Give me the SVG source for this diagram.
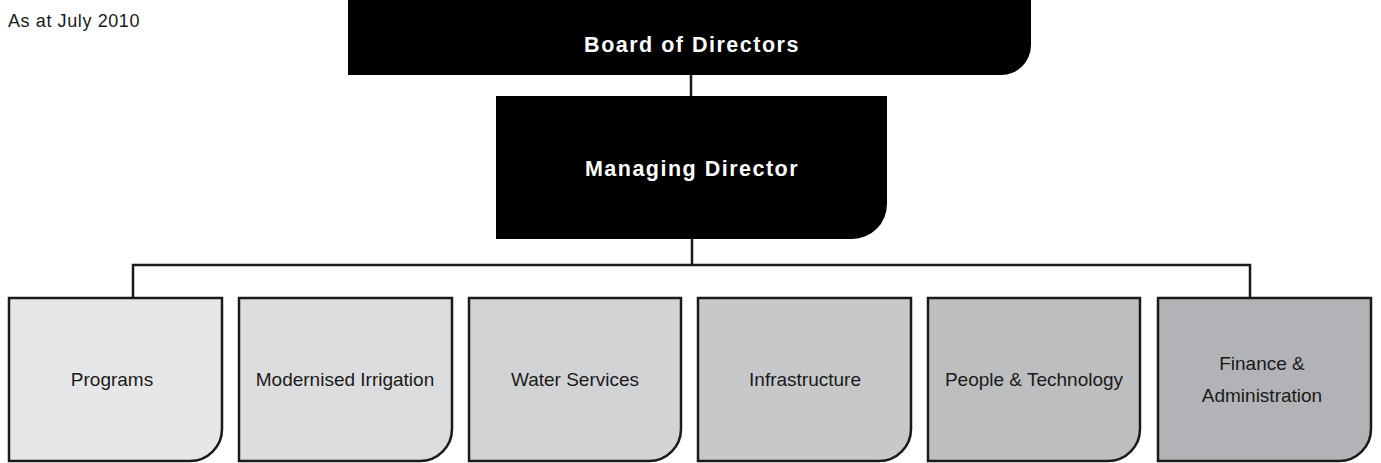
<svg xmlns="http://www.w3.org/2000/svg" width="1381" height="463" viewBox="0 0 1381 463">
<style>
.lbl{font-family:"Liberation Sans",Arial,sans-serif;font-size:19px;fill:#1a1a1a;text-anchor:middle}
.hd{font-family:"Liberation Sans",Arial,sans-serif;font-size:21.5px;font-weight:bold;letter-spacing:1.5px;fill:#ffffff;text-anchor:middle}
.box{stroke:#1a1a1a;stroke-width:2.5}
.conn{fill:none;stroke:#1a1a1a;stroke-width:2.5}
</style>
<rect width="1381" height="463" fill="#ffffff"/>
<text x="8" y="27" style="font-family:'Liberation Sans',Arial,sans-serif;font-size:18px;letter-spacing:0.6px;fill:#1a1a1a">As at July 2010</text>
<g id="connectors">
<path class="conn" d="M691 75 V97"/>
<path class="conn" d="M692 238 V265"/>
<path class="conn" d="M133 297 V265 H1250 V297"/>
</g>
<g id="board">
<path d="M348 0 H1031 V45 A30 30 0 0 1 1001 75 H348 Z" fill="#000000"/>
<text class="hd" x="692" y="52">Board of Directors</text>
</g>
<g id="md">
<path d="M496 96 H887 V204 A35 35 0 0 1 852 239 H496 Z" fill="#000000"/>
<text class="hd" x="692" y="176">Managing Director</text>
</g>
<g id="programs">
<path class="box" d="M9 298 H222 V429 A32 32 0 0 1 190 461 H9 Z" fill="#e6e7e8"/>
<text class="lbl" x="112" y="386">Programs</text>
</g>
<g id="irrigation">
<path class="box" d="M239 298 H452 V429 A32 32 0 0 1 420 461 H239 Z" fill="#dcdddf"/>
<text class="lbl" x="345" y="386">Modernised Irrigation</text>
</g>
<g id="water">
<path class="box" d="M469 298 H681 V429 A32 32 0 0 1 649 461 H469 Z" fill="#d1d3d4"/>
<text class="lbl" x="575" y="386">Water Services</text>
</g>
<g id="infrastructure">
<path class="box" d="M698 298 H911 V429 A32 32 0 0 1 879 461 H698 Z" fill="#c7c8ca"/>
<text class="lbl" x="805" y="386">Infrastructure</text>
</g>
<g id="people">
<path class="box" d="M928 298 H1140 V429 A32 32 0 0 1 1108 461 H928 Z" fill="#bcbec0"/>
<text class="lbl" x="1034" y="386">People &amp; Technology</text>
</g>
<g id="finance">
<path class="box" d="M1158 298 H1371 V429 A32 32 0 0 1 1339 461 H1158 Z" fill="#b1b3b6"/>
<text class="lbl" x="1262" y="370">Finance &amp;</text>
<text class="lbl" x="1262" y="402">Administration</text>
</g>
</svg>
